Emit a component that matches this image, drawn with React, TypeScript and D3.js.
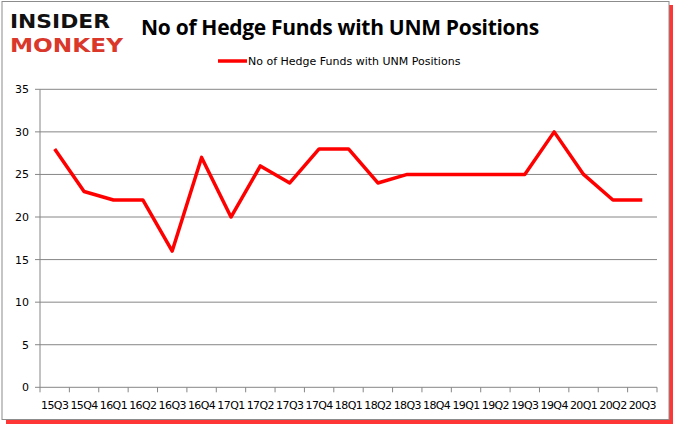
import * as d3 from 'd3';
import { useEffect, useRef } from 'react';

const quarters = ['15Q3', '15Q4', '16Q1', '16Q2', '16Q3', '16Q4', '17Q1', '17Q2', '17Q3', '17Q4', '18Q1', '18Q2', '18Q3', '18Q4', '19Q1', '19Q2', '19Q3', '19Q4', '20Q1', '20Q2', '20Q3'];
const fundCounts = [28, 23, 22, 22, 16, 27, 20, 26, 24, 28, 28, 24, 25, 25, 25, 25, 25, 30, 25, 22, 22];
const yTicks = [0, 5, 10, 15, 20, 25, 30, 35];
const seriesName = 'No of Hedge Funds with UNM Positions';

const width = 678;
const height = 431;
const plot = { left: 40, right: 657, top: 89.3, bottom: 387.3 };

const App = () => {
    const ref = useRef<SVGSVGElement | null>(null);

    useEffect(() => {
        const svg = d3.select(ref.current);
        svg.selectAll('*').remove();

        // frame with red drop shadow
        svg.append('rect').attr('x', 6).attr('y', 5).attr('width', 667).attr('height', 419).attr('fill', '#ff2020').attr('opacity', 0.9);
        svg.append('rect').attr('x', 2).attr('y', 1.5).attr('width', 667).attr('height', 418)
            .attr('fill', '#fff').attr('stroke', '#8c8c8c').attr('stroke-width', 1);

        const xScale = d3.scaleBand<string>().domain(quarters).range([plot.left, plot.right]);
        const yScale = d3.scaleLinear().domain([0, 35]).range([plot.bottom, plot.top]);

        const grid = svg.append('g');
        grid.selectAll('line').data(yTicks).enter().append('line')
            .attr('x1', plot.left - 5).attr('x2', plot.right)
            .attr('y1', d => yScale(d)).attr('y2', d => yScale(d))
            .attr('stroke', '#868686').attr('stroke-width', 1);

        svg.append('line').attr('x1', plot.left).attr('x2', plot.left)
            .attr('y1', plot.top).attr('y2', plot.bottom).attr('stroke', '#868686');

        svg.append('g').selectAll('text').data(yTicks).enter().append('text')
            .attr('x', plot.left - 11).attr('y', d => yScale(d) + 4)
            .attr('text-anchor', 'end').attr('font-family', 'DejaVu Sans').attr('font-size', 11)
            .attr('fill', '#000').text(d => d);

        // category boundary ticks
        const bounds = quarters.map(q => xScale(q) as number).concat([plot.right]);
        svg.append('g').selectAll('line').data(bounds).enter().append('line')
            .attr('x1', d => d).attr('x2', d => d)
            .attr('y1', plot.bottom).attr('y2', plot.bottom + 5)
            .attr('stroke', '#868686');

        svg.append('g').selectAll('text').data(quarters).enter().append('text')
            .attr('x', d => (xScale(d) as number) + xScale.bandwidth() / 2)
            .attr('y', 409)
            .attr('text-anchor', 'middle').attr('font-family', 'DejaVu Sans').attr('font-size', 11)
            .attr('letter-spacing', -0.6)
            .attr('fill', '#000').text(d => d);

        const line = d3.line<number>()
            .x((_d, i) => (xScale(quarters[i]) as number) + xScale.bandwidth() / 2)
            .y(d => yScale(d));

        svg.append('path').datum(fundCounts).attr('d', line)
            .attr('fill', 'none').attr('stroke', '#ff0000').attr('stroke-width', 3.5)
            .attr('stroke-linejoin', 'round');

        // title
        svg.append('text').attr('x', 340).attr('y', 35).attr('text-anchor', 'middle')
            .attr('font-family', 'Open Sans').attr('font-weight', 'bold').attr('font-size', 21)
            .attr('letter-spacing', -0.3)
            .text('No of Hedge Funds with UNM Positions');

        // legend
        svg.append('line').attr('x1', 218).attr('x2', 247).attr('y1', 61).attr('y2', 61)
            .attr('stroke', '#ff0000').attr('stroke-width', 3.5);
        svg.append('text').attr('x', 248).attr('y', 65).attr('font-family', 'DejaVu Sans')
            .attr('font-size', 11).text(seriesName);

        // logo
        svg.append('text').attr('x', 10).attr('y', 28).attr('font-family', 'DejaVu Sans')
            .attr('font-weight', 'bold').attr('font-size', 20)
            .attr('textLength', 100).attr('lengthAdjust', 'spacingAndGlyphs')
            .attr('fill', '#111').text('INSIDER');
        svg.append('text').attr('x', 10).attr('y', 52).attr('font-family', 'DejaVu Sans')
            .attr('font-weight', 'bold').attr('font-size', 20)
            .attr('textLength', 113).attr('lengthAdjust', 'spacingAndGlyphs')
            .attr('fill', '#d9382b').text('MONKEY');
    }, [ref]);

    return (
        <svg ref={ref} width={width} height={height}
            style={{ position: 'absolute', left: 0, top: 0, display: 'block' }} />
    );
};

export default App;
